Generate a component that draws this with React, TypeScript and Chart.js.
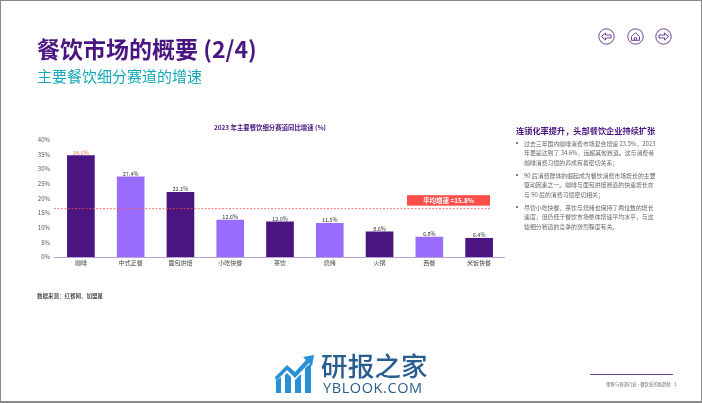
import React, { useEffect, useRef } from "react";
import { Chart, registerables } from "chart.js";

Chart.register(...registerables);

const categories = ["咖啡", "中式正餐", "面包烘焙", "小吃快餐", "茶饮", "烧烤", "火锅", "西餐", "米饭快餐"];
const growth = [34.6, 27.4, 22.1, 12.6, 12.0, 11.5, 8.6, 6.8, 6.4];
const barColors = ["#4a1580", "#9a6bff", "#4a1580", "#9a6bff", "#4a1580", "#9a6bff", "#4a1580", "#9a6bff", "#4a1580"];
const valueColors = ["#f2804f", "#333333", "#333333", "#333333", "#333333", "#333333", "#333333", "#333333", "#333333"];
const averageLineValue = 16.5;
const averageLabel = "平均增速 =15.8%";
const chartTitle = "2023 年主要餐饮细分赛道同比增速 (%)";
const bullets = [
  ["过去三年国内咖啡消费市场复合增速 23.5%，2023", "年更是达到了 34.6%，远超其他赛道。这与消费者", "咖啡消费习惯的养成有着密切关系；"],
  ["90 后消费群体的崛起成为餐饮消费市场增长的主要", "驱动因素之一。咖啡与面包烘焙赛道的快速增长亦", "与 90 后的消费习惯密切相关；"],
  ["尽管小吃快餐、茶饮与烧烤也保持了两位数的增长", "速度，但仍低于餐饮市场整体增速平均水平，与这", "些细分赛道的竞争的激烈程度有关。"],
];

const FONT = '"Noto Sans CJK SC", "Noto Sans", sans-serif';

const overlayPlugin = {
  id: "overlay",
  afterDatasetsDraw(chart: any) {
    const { ctx, scales } = chart;
    const x = scales.x;
    const y = scales.y;
    ctx.save();
    // baseline
    ctx.strokeStyle = "#b8a2d8";
    ctx.lineWidth = 1;
    ctx.beginPath();
    ctx.moveTo(54, y.getPixelForValue(0) + 0.5);
    ctx.lineTo(505, y.getPixelForValue(0) + 0.5);
    ctx.stroke();
    // value labels
    ctx.font = `400 5.5px ${FONT}`;
    ctx.textAlign = "center";
    ctx.textBaseline = "bottom";
    growth.forEach((v, i) => {
      ctx.fillStyle = valueColors[i];
      ctx.fillText(`${v.toFixed(1)}%`, x.getPixelForValue(i), y.getPixelForValue(v) - 0.5);
    });
    // average line
    const ay = y.getPixelForValue(averageLineValue);
    ctx.strokeStyle = "#f0524f";
    ctx.lineWidth = 0.8;
    ctx.setLineDash([2, 1.5]);
    ctx.beginPath();
    ctx.moveTo(54, ay);
    ctx.lineTo(491, ay);
    ctx.stroke();
    ctx.setLineDash([]);
    // average tag
    ctx.fillStyle = "#ff4d4a";
    ctx.fillRect(407, ay - 13.5, 83, 10.5);
    ctx.fillStyle = "#ffffff";
    ctx.font = `700 6.5px ${FONT}`;
    ctx.textBaseline = "middle";
    ctx.fillText(averageLabel, 448.5, ay - 8);
    ctx.restore();
  },
};

function NavIcon({ kind }: { kind: "left" | "home" | "right" }) {
  const c = "#5b2a8c";
  return (
    <svg width="17" height="17" viewBox="0 0 17 17" style={{ display: "block" }}>
      <circle cx="8.5" cy="8.5" r="7.7" fill="none" stroke={c} strokeWidth="0.9" />
      {kind === "left" && <path d="M3.5 8.5 L7.5 5 V7 H13 V10 H7.5 V12 Z" fill="none" stroke={c} strokeWidth="0.9" strokeLinejoin="round" />}
      {kind === "right" && <path d="M13.5 8.5 L9.5 5 V7 H4 V10 H9.5 V12 Z" fill="none" stroke={c} strokeWidth="0.9" strokeLinejoin="round" />}
      {kind === "home" && <path d="M4.5 8.5 L8.5 4.8 L12.5 8.5 V12.3 H4.5 Z M7.3 12.3 V9.8 H9.7 V12.3" fill="none" stroke={c} strokeWidth="0.9" strokeLinejoin="round" />}
    </svg>
  );
}

const abs = (left: number, top: number, extra: React.CSSProperties = {}): React.CSSProperties => ({
  position: "absolute",
  left,
  top,
  whiteSpace: "pre",
  fontFamily: FONT,
  ...extra,
});

export default function App() {
  const ref = useRef<HTMLCanvasElement>(null);
  useEffect(() => {
    if (!ref.current) return;
    const chart = new Chart(ref.current, {
      type: "bar",
      data: {
        labels: categories,
        datasets: [{ data: growth, backgroundColor: barColors, barThickness: 27, borderWidth: 0 }],
      },
      options: {
        responsive: false,
        animation: false,
        layout: { padding: { left: 36, right: 198, top: 124, bottom: 0 } },
        plugins: {
          legend: { display: false },
          tooltip: { enabled: false },
          title: {
            display: true,
            text: chartTitle,
            color: "#4a1580",
            font: { family: FONT, size: 6.4, weight: "bold", lineHeight: 1.2 },
            padding: { top: 0, bottom: 8.2 },
          },
        },
        scales: {
          x: {
            grid: { display: false, drawTicks: false },
            border: { display: false },
            ticks: { color: "#444444", font: { family: FONT, size: 6 }, padding: 2, maxRotation: 0, autoSkip: false },
            afterFit: (s: any) => { s.height = 146; },
          },
          y: {
            min: 0,
            max: 40,
            grid: { display: false, drawTicks: false },
            border: { display: false },
            ticks: {
              stepSize: 5,
              color: "#555555",
              font: { family: FONT, size: 6 },
              padding: 6,
              callback: (v: any) => `${v}%`,
            },
            afterFit: (s: any) => { s.width = 20; },
          },
        },
      },
      plugins: [overlayPlugin],
    } as any);
    return () => chart.destroy();
  }, []);

  return (
    <div style={{ position: "absolute", left: 0, top: 0, width: 702, height: 403, overflow: "hidden", background: "#fff" }}>
      <style>{"html,body{margin:0;padding:0;background:#fff}"}</style>
      <canvas ref={ref} width={702} height={403} style={{ position: "absolute", left: 0, top: 0, width: 702, height: 403 }} />
      <div style={{ position: "absolute", left: 0, top: 0, width: 700, height: 400, border: "1px solid #8a8a8a", borderBottomWidth: 2, pointerEvents: "none" }} />

      <div style={abs(37, 33, { fontSize: 23, fontWeight: 700, color: "#4a1580", lineHeight: "30px" })}>餐饮市场的概要 (2/4)</div>
      <div style={abs(37, 66, { fontSize: 15, fontWeight: 400, color: "#14a9b8", lineHeight: "20px" })}>主要餐饮细分赛道的增速</div>

      <div style={{ position: "absolute", left: 598, top: 28 }}><NavIcon kind="left" /></div>
      <div style={{ position: "absolute", left: 627, top: 28 }}><NavIcon kind="home" /></div>
      <div style={{ position: "absolute", left: 655, top: 28 }}><NavIcon kind="right" /></div>

      <div style={abs(37, 292, { fontSize: 5.5, fontWeight: 500, color: "#333", lineHeight: "8px" })}>数据来源：红餐网、加盟星</div>

      <div style={abs(516, 124, { fontSize: 8.2, fontWeight: 700, color: "#4a1580", lineHeight: "12px" })}>连锁化率提升，头部餐饮企业持续扩张</div>
      {bullets.map((lines, i) => (
        <React.Fragment key={i}>
          <div style={{ position: "absolute", left: 516, top: 142 + i * 32, width: 2, height: 2, borderRadius: 1, background: "#555" }} />
          {lines.map((t, j) => (
            <div key={j} style={abs(524, 138.5 + i * 32 + j * 9.7, { fontSize: 5.9, color: "#666", lineHeight: "9px" })}>{t}</div>
          ))}
        </React.Fragment>
      ))}

      <svg width="40" height="40" viewBox="0 0 40 40" style={{ position: "absolute", left: 275, top: 354 }}>
        <g fill="#2a90d6">
          <path d="M1 39 V27 L6 23 V39 Z" />
          <path d="M10 39 V21 L12 19 L16 23 V39 Z" />
          <path d="M20 39 V26 L26 20 V39 Z" />
          <path d="M30 39 V14 L36 9 V39 Z" />
          <path d="M39 1 L28 3 L31 6 L20 18 L12 11 L0 23 L1 27 L12 16 L20 24 L34 9 L37 12 Z" />
        </g>
      </svg>
      <div style={abs(321, 348, { fontSize: 26.5, fontWeight: 500, color: "#2a5d8f", lineHeight: "34px", letterSpacing: 0.2 })}>研报之家</div>
      <div style={abs(323, 379, { fontSize: 14.5, fontFamily: '"Open Sans", sans-serif', fontWeight: 500, color: "#2a5d8f", lineHeight: "18px", letterSpacing: 0.6 })}>YBLOOK.COM</div>

      <div style={{ position: "absolute", left: 590, top: 374, width: 83, height: 1, background: "#6a4a9c" }} />
      <div style={abs(606, 381, { fontSize: 4.4, color: "#666", lineHeight: "6px" })}>零售与快消行业 - 餐饮业的新趋势   3</div>
    </div>
  );
}
